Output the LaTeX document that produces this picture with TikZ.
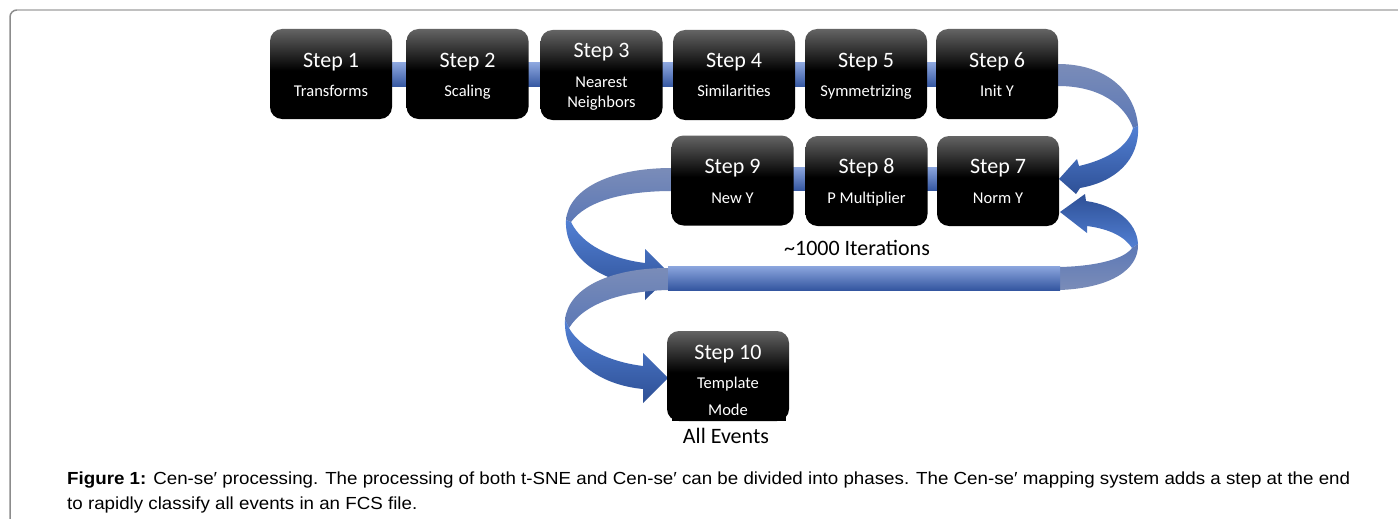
\documentclass[tikz,border=0pt]{standalone}
\usepackage{fontspec}
\usepackage{graphicx}
\newfontfamily\carl{Carlito}
\newfontfamily\capfont{Liberation Sans}
\usetikzlibrary{calc}
\definecolor{boxtop}{RGB}{100,100,100}
\definecolor{barL}{RGB}{140,166,222}
\definecolor{barM}{RGB}{70,114,196}
\definecolor{barD}{RGB}{52,86,160}
\definecolor{backL}{RGB}{122,140,184}
\definecolor{backD}{RGB}{92,120,182}
\definecolor{frontL}{RGB}{82,128,212}
\definecolor{frontD}{RGB}{46,80,150}
\definecolor{frameTop}{RGB}{192,192,192}
\definecolor{frameLeft}{RGB}{140,140,140}
\pgfdeclareverticalshading{boxshade}{100bp}{color(0bp)=(black); color(25bp)=(black); color(52bp)=(black); color(75bp)=(boxtop); color(100bp)=(boxtop)}
\newlength\caplen
\newcommand\capline{\textbf{Figure 1:} Cen-se′ processing. The processing of both t-SNE and Cen-se′ can be divided into phases. The Cen-se′ mapping system adds a step at the end}
\begin{document}
\settowidth\caplen{\capfont\fontsize{17.5}{19}\selectfont\capline}%
\pgfmathsetmacro\capsc{1283pt/\caplen}%
\begin{tikzpicture}[x=1pt,y=-1pt,
  sbox/.style={rounded corners=12pt, minimum width=122pt, minimum height=90pt,
    inner sep=0pt, shading=boxshade, draw=none},
  stitle/.style={anchor=base, text=white, font=\carl\fontsize{22}{24}\selectfont, inner sep=0pt},
  ssub/.style={anchor=base, text=white, font=\carl\fontsize{16.5}{18}\selectfont, inner sep=0pt},
  lbl/.style={anchor=base, text=black, font=\carl\fontsize{22}{24}\selectfont, inner sep=0pt},
  bar/.style={top color=barL, middle color=barM, bottom color=barD},
  back/.style={top color=backL, bottom color=backD},
  front/.style={top color=frontL, bottom color=frontD},
  frontup/.style={top color=frontD, bottom color=frontL},
  backup/.style={top color=backD, bottom color=backL},
]
\useasboundingbox (0,0) rectangle (1398,519);
\fill[white] (0,0) rectangle (1398,519);
% frame
\draw[frameLeft, line width=1.5pt] (10,519) -- (10,17) arc[start angle=180, end angle=90, radius=7pt];
\draw[frameTop, line width=2pt] (17,10) -- (1398,10);

% box positions
\coordinate (c1) at (331,74);
\coordinate (c2) at (467.5,74);
\coordinate (c3) at (601.5,75);
\coordinate (c4) at (734,75);
\coordinate (c5) at (866,74);
\coordinate (c6) at (997,74);
\coordinate (c9) at (732.5,180.5);
\coordinate (c8) at (866.5,181);
\coordinate (c7) at (998,181);
\coordinate (c10) at (728,376);

% straight bars
\shade[bar] ([yshift=11pt]c1) rectangle ([yshift=-13pt]c6);
\shade[bar] ([yshift=13.5pt]c9) rectangle ([yshift=-9.5pt]c7);

% arrow 1: step 6 -> step 7
\shade[back] (1058,64) .. controls (1105,64) and (1135,90) .. (1138,126)
  -- (1133,128) .. controls (1125,105) and (1100,86) .. (1058,86) -- cycle;
\shade[front] (1138,126) .. controls (1140,160) and (1115,182) .. (1080,188)
  -- (1076,194) -- (1059,179) -- (1077,159) -- (1079,166)
  .. controls (1105,160) and (1128,148) .. (1133,128) -- cycle;

% arrow 2: long bar -> step 7
\shade[frontup] (1086,201) .. controls (1115,205) and (1137,222) .. (1138,244)
  -- (1132,248) .. controls (1125,237) and (1110,229) .. (1087,226)
  -- (1087,233) -- (1060,212) -- (1085,194) -- cycle;
\shade[backup] (1138,244) .. controls (1139,270) and (1110,288) .. (1060,290)
  -- (1060,267) .. controls (1100,266) and (1125,258) .. (1132,248) -- cycle;

% arrow 3: step 9 -> long bar
\shade[back] (672,168) .. controls (612,168) and (569,188) .. (566,220)
  -- (571,222) .. controls (587,200) and (627,191) .. (672,191) -- cycle;
\shade[front] (566,220) .. controls (564,258) and (602,282) .. (645,286)
  -- (645,300) -- (671,275) -- (645,249) -- (645,263)
  .. controls (612,259) and (582,245) .. (571,222) -- cycle;

% arrow 4: long bar -> step 10
\shade[back] (668,268) .. controls (610,268) and (568,288) .. (565,320)
  -- (569,328) .. controls (585,302) and (625,291) .. (668,290) -- cycle;
\shade[front] (565,320) .. controls (563,360) and (600,385) .. (643,389)
  -- (643,403) -- (668,378) -- (643,353) -- (643,366)
  .. controls (610,362) and (580,348) .. (569,328) -- cycle;

% long bar
\coordinate (lbA) at (668,266);
\coordinate (lbB) at (1060,290);
\shade[bar] (lbA) rectangle (lbB);

% boxes
\node[sbox] (s1) at (c1) {};
\node[sbox] (s2) at (c2) {};
\node[sbox] (s3) at (c3) {};
\node[sbox] (s4) at (c4) {};
\node[sbox] (s5) at (c5) {};
\node[sbox] (s6) at (c6) {};
\node[sbox] (s9) at (c9) {};
\node[sbox] (s8) at (c8) {};
\node[sbox] (s7) at (c7) {};
\node[sbox] (s10) at (c10) {};
\fill[black] (672,410) rectangle (786,421);

% texts
\node[stitle] (t1) at (331,67) {Step 1};
\node[ssub] (u1) at (331,96) {Transforms};
\node[stitle] (t2) at (467.5,67) {Step 2};
\node[ssub] (u2) at (467.5,96) {Scaling};
\node[stitle] (t3) at (601.5,58) {Step 3};
\node[ssub] (u3) at (601.5,88) {Nearest};
\node[ssub] (v3) at (601.5,107) {Neighbors};
\node[stitle] (t4) at (734,67.5) {Step 4};
\node[ssub] (u4) at (734,96.5) {Similarities};
\node[stitle] (t5) at (866,67) {Step 5};
\node[ssub] (u5) at (866,96) {Symmetrizing};
\node[stitle] (t6) at (997,67) {Step 6};
\node[ssub] (u6) at (997,96) {Init Y};
\node[stitle] (t9) at (732.5,173) {Step 9};
\node[ssub] (u9) at (732.5,203) {New Y};
\node[stitle] (t8) at (866.5,173.5) {Step 8};
\node[ssub] (u8) at (866.5,203.5) {P Multiplier};
\node[stitle] (t7) at (998,173.5) {Step 7};
\node[ssub] (u7) at (998,203.5) {Norm Y};
\node[stitle] (t10) at (728,359) {Step 10};
\node[ssub] (u10) at (728,388) {Template};
\node[ssub] (v10) at (728,415) {Mode};
\node[lbl] (ae) at (726,443) {All Events};
\node[lbl] (it) at (857,255) {\char"7E 1000 Iterations};

% caption
\node[anchor=base west, inner sep=0pt] (cap1) at (67,484) {\scalebox{\capsc}[1]{\capfont\fontsize{17.5}{19}\selectfont\capline}};
\node[anchor=base west, inner sep=0pt] (cap2) at (67,509) {\scalebox{\capsc}[1]{\capfont\fontsize{17.5}{19}\selectfont to rapidly classify all events in an FCS file.}};
\end{tikzpicture}
\end{document}
